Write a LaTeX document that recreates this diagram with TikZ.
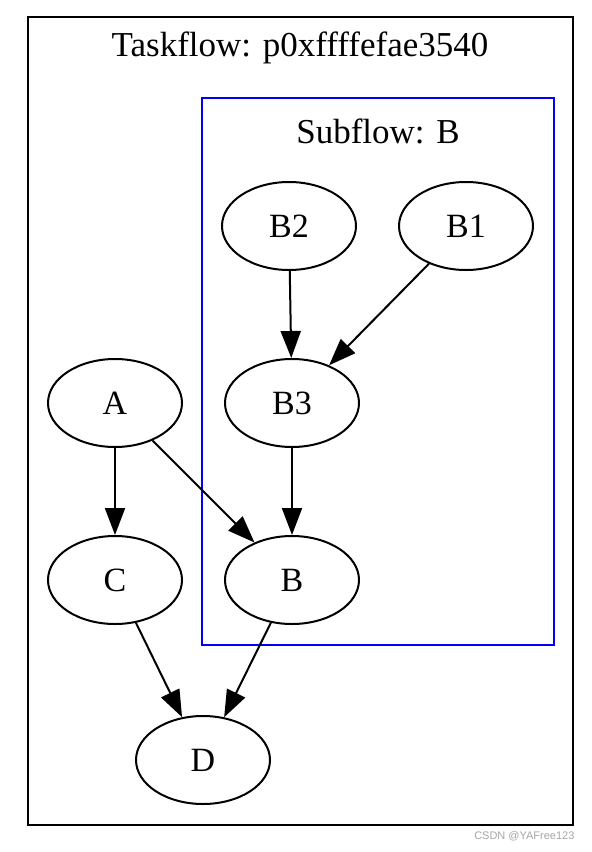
\documentclass[tikz,border=0pt]{standalone}
\usepackage{fontspec}
\setmainfont{Liberation Serif}
\newfontfamily\wmfont{Liberation Sans}
\usetikzlibrary{shapes.geometric,arrows.meta}
\begin{document}
\begin{tikzpicture}[x=1pt,y=-1pt,
  task/.style={ellipse,draw,line width=2pt,minimum width=134pt,minimum height=88pt,inner sep=0pt,font=\fontsize{34}{36}\selectfont},
  edge/.style={line width=2pt,-{Triangle[length=27pt,width=20pt]}},
  title/.style={font=\fontsize{35}{37}\selectfont}]
\useasboundingbox (0,0) rectangle (592,852);
\fill[white] (0,0) rectangle (592,852);
\draw[line width=2pt] (28,17) rectangle (573,825);
\node[title] (t) at (300,48) {Taskflow: p0xffffefae3540};
\draw[blue,line width=2pt] (202,98) rectangle (554,645);
\node[title] (s) at (378,131) {Subflow: B};
\node[task] (B2) at (289,226) {B2};
\node[task] (B1) at (466,226) {B1};
\node[task] (B3) at (292,403) {B3};
\node[task] (A) at (115,403) {A};
\node[task] (C) at (115,580) {C};
\node[task] (B) at (292,580) {B};
\node[task] (D) at (203,760) {D};
\draw[edge] (B2) -- (B3);
\draw[edge] (B1) -- (B3);
\draw[edge] (B3) -- (B);
\draw[edge] (A) -- (C);
\draw[edge] (A) -- (B);
\draw[edge] (C) -- (D);
\draw[edge] (B) -- (D);
\node[text=black!35,font=\wmfont\fontsize{11}{13}\selectfont,anchor=east] (wm) at (578,836) {CSDN @YAFree123};
\end{tikzpicture}
\end{document}
